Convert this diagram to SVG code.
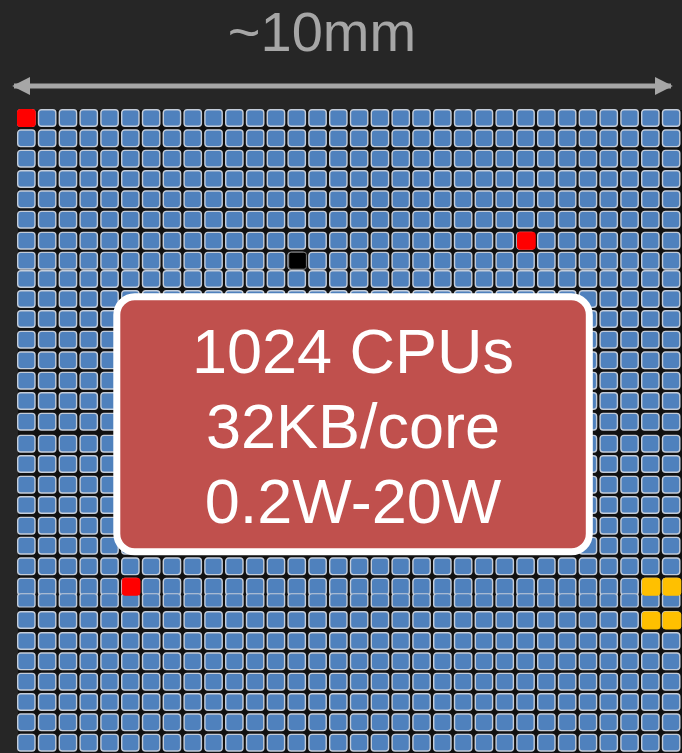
<svg xmlns="http://www.w3.org/2000/svg" width="682" height="753" viewBox="0 0 682 753">
<style>
.cell{fill:#4f81bd;stroke:#c3ccd9;stroke-width:1.4}
.red{fill:#ff0000;stroke:#ff0000;stroke-width:1}
.blk{fill:#000000;stroke:#7a7a7a;stroke-width:1}
.yel{fill:#ffc000;stroke:#ffc000;stroke-width:1}
.lbl{font-family:"Liberation Sans",Arial,sans-serif;fill:#a6a6a6}
.box{font-family:"Liberation Sans",Arial,sans-serif;fill:#ffffff;font-size:63px;text-anchor:middle}
</style>
<defs>
<g id="row">
<rect class="cell" x="17.7" y="0.7" width="17.3" height="16.6" rx="3"/>
<rect class="cell" x="38.5" y="0.7" width="17.3" height="16.6" rx="3"/>
<rect class="cell" x="59.3" y="0.7" width="17.3" height="16.6" rx="3"/>
<rect class="cell" x="80.1" y="0.7" width="17.3" height="16.6" rx="3"/>
<rect class="cell" x="100.9" y="0.7" width="17.3" height="16.6" rx="3"/>
<rect class="cell" x="121.7" y="0.7" width="17.3" height="16.6" rx="3"/>
<rect class="cell" x="142.5" y="0.7" width="17.3" height="16.6" rx="3"/>
<rect class="cell" x="163.3" y="0.7" width="17.3" height="16.6" rx="3"/>
<rect class="cell" x="184.1" y="0.7" width="17.3" height="16.6" rx="3"/>
<rect class="cell" x="204.9" y="0.7" width="17.3" height="16.6" rx="3"/>
<rect class="cell" x="225.7" y="0.7" width="17.3" height="16.6" rx="3"/>
<rect class="cell" x="246.5" y="0.7" width="17.3" height="16.6" rx="3"/>
<rect class="cell" x="267.3" y="0.7" width="17.3" height="16.6" rx="3"/>
<rect class="cell" x="288.1" y="0.7" width="17.3" height="16.6" rx="3"/>
<rect class="cell" x="308.9" y="0.7" width="17.3" height="16.6" rx="3"/>
<rect class="cell" x="329.7" y="0.7" width="17.3" height="16.6" rx="3"/>
<rect class="cell" x="350.5" y="0.7" width="17.3" height="16.6" rx="3"/>
<rect class="cell" x="371.3" y="0.7" width="17.3" height="16.6" rx="3"/>
<rect class="cell" x="392.1" y="0.7" width="17.3" height="16.6" rx="3"/>
<rect class="cell" x="412.9" y="0.7" width="17.3" height="16.6" rx="3"/>
<rect class="cell" x="433.7" y="0.7" width="17.3" height="16.6" rx="3"/>
<rect class="cell" x="454.5" y="0.7" width="17.3" height="16.6" rx="3"/>
<rect class="cell" x="475.3" y="0.7" width="17.3" height="16.6" rx="3"/>
<rect class="cell" x="496.1" y="0.7" width="17.3" height="16.6" rx="3"/>
<rect class="cell" x="516.9" y="0.7" width="17.3" height="16.6" rx="3"/>
<rect class="cell" x="537.7" y="0.7" width="17.3" height="16.6" rx="3"/>
<rect class="cell" x="558.5" y="0.7" width="17.3" height="16.6" rx="3"/>
<rect class="cell" x="579.3" y="0.7" width="17.3" height="16.6" rx="3"/>
<rect class="cell" x="600.1" y="0.7" width="17.3" height="16.6" rx="3"/>
<rect class="cell" x="620.9" y="0.7" width="17.3" height="16.6" rx="3"/>
<rect class="cell" x="641.7" y="0.7" width="17.3" height="16.6" rx="3"/>
<rect class="cell" x="662.5" y="0.7" width="17.3" height="16.6" rx="3"/>
</g>
<marker id="ah" viewBox="0 0 10 10" refX="9" refY="5" markerWidth="3.6" markerHeight="3.6" orient="auto-start-reverse" markerUnits="strokeWidth">
<path d="M0,0 L10,5 L0,10 z" fill="#a6a6a6"/>
</marker>
</defs>
<rect width="682" height="753" fill="#262626"/>
<g id="dimension">
<line x1="14" y1="86" x2="671" y2="86" stroke="#a6a6a6" stroke-width="5" marker-start="url(#ah)" marker-end="url(#ah)"/>
<text class="lbl" x="322" y="51" font-size="56" text-anchor="middle">~10mm</text>
</g>
<g id="grid">
<rect x="18" y="110" width="664" height="643" fill="#111111"/>
<use href="#row" y="109"/>
<use href="#row" y="129.3"/>
<use href="#row" y="149.7"/>
<use href="#row" y="170"/>
<use href="#row" y="190.3"/>
<use href="#row" y="210.7"/>
<use href="#row" y="231.7"/>
<use href="#row" y="251.7"/>
<use href="#row" y="270"/>
<use href="#row" y="290"/>
<use href="#row" y="310"/>
<use href="#row" y="330.7"/>
<use href="#row" y="351.3"/>
<use href="#row" y="371.7"/>
<use href="#row" y="392"/>
<use href="#row" y="412.7"/>
<use href="#row" y="434.7"/>
<use href="#row" y="455"/>
<use href="#row" y="475.7"/>
<use href="#row" y="496"/>
<use href="#row" y="516.7"/>
<use href="#row" y="536.7"/>
<use href="#row" y="557.3"/>
<use href="#row" y="577.7"/>
<use href="#row" y="593" transform="translate(0,594) scale(1,0.8) translate(0,-594)"/>
<use href="#row" y="611"/>
<use href="#row" y="632"/>
<use href="#row" y="652.3"/>
<use href="#row" y="672.7"/>
<use href="#row" y="693"/>
<use href="#row" y="713.3"/>
<use href="#row" y="733.7"/>
</g>
<g id="special-cores">
<rect class="red" x="17.5" y="109.5" width="17.7" height="17" rx="2.5"/>
<rect class="red" x="517.5" y="232.2" width="17.7" height="17" rx="2.5"/>
<rect class="blk" x="288.7" y="252.2" width="17.7" height="17" rx="2.5"/>
<rect class="red" x="122.3" y="578.2" width="17.7" height="17" rx="2.5"/>
<rect class="yel" x="642.3" y="578.2" width="17.7" height="17" rx="2.5"/>
<rect class="yel" x="663.1" y="578.2" width="17.7" height="17" rx="2.5"/>
<rect class="yel" x="642.3" y="612" width="17.7" height="17" rx="2.5"/>
<rect class="yel" x="663.1" y="612" width="17.7" height="17" rx="2.5"/>
</g>
<g id="summary">
<rect x="116.8" y="296.8" width="472.5" height="255" rx="18" fill="#c0504d" stroke="#ffffff" stroke-width="7"/>
<text class="box" x="353" y="373">1024 CPUs</text>
<text class="box" x="353" y="448">32KB/core</text>
<text class="box" x="353" y="523">0.2W-20W</text>
</g>
</svg>
